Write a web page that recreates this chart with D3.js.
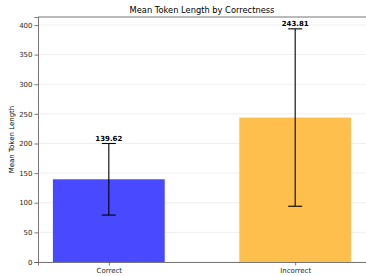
<!DOCTYPE html>
<html>
<head>
<meta charset="utf-8">
<script src="https://d3js.org/d3.v7.min.js"></script>
<style>
  body { margin: 0; background: #fff; }
  text { font-family: "DejaVu Sans", sans-serif; }
</style>
</head>
<body>
<div id="chart-area"></div>
<script>
  // Data
  var categories = ['Correct', 'Incorrect'];
  var means = [139.62, 243.81];
  var stds = [60.4, 149.7];
  var barColors = ['#4949ff', '#ffbf4d'];
  var yTicks = [0, 50, 100, 150, 200, 250, 300, 350, 400];

  var W = 366, H = 276;
  var margin = {left: 38, right: 0, top: 17, bottom: 14};
  var width = W - margin.left - margin.right,
      height = H - margin.top - margin.bottom;

  var svg = d3.select('#chart-area').append('svg')
      .attr('width', W).attr('height', H);
  var g = svg.append('g')
      .attr('transform', 'translate(' + margin.left + ',' + margin.top + ')');

  // Scales: index positions like matplotlib bar chart
  var x = d3.scaleLinear().domain([-0.38, 1.38]).range([0, width]);
  var y = d3.scaleLinear().domain([0, 413.5]).range([height, 0]);
  var barW = 0.6;

  // Grid
  g.selectAll('.grid').data(yTicks).enter().append('line')
      .attr('x1', 0).attr('x2', width)
      .attr('y1', function(d) { return y(d); })
      .attr('y2', function(d) { return y(d); })
      .attr('stroke', '#ebebeb').attr('stroke-width', 0.8);

  // Bars
  g.selectAll('.bar').data(means).enter().append('rect')
      .attr('x', function(d, i) { return x(i - barW / 2); })
      .attr('width', x(barW) - x(0))
      .attr('y', function(d) { return y(d); })
      .attr('height', function(d) { return y(0) - y(d); })
      .attr('fill', function(d, i) { return barColors[i]; });

  // Error bars
  var cap = 7;
  means.forEach(function(m, i) {
    var cx = x(i), top = y(m + stds[i]), bot = y(m - stds[i]);
    g.append('line').attr('x1', cx).attr('x2', cx).attr('y1', top).attr('y2', bot)
        .attr('stroke', '#000').attr('stroke-width', 1.1);
    [top, bot].forEach(function(yy) {
      g.append('line').attr('x1', cx - cap).attr('x2', cx + cap).attr('y1', yy).attr('y2', yy)
          .attr('stroke', '#000').attr('stroke-width', 1.1);
    });
    g.append('text')
        .attr('x', cx).attr('y', top - 2.5)
        .attr('text-anchor', 'middle')
        .attr('font-size', '7px').attr('font-weight', 'bold')
        .text(m.toFixed(2));
  });

  // Axes
  var yAxis = g.append('g')
      .call(d3.axisLeft(y).tickValues(yTicks).tickSize(3.5).tickPadding(2));
  var xAxis = g.append('g')
      .attr('transform', 'translate(0,' + height + ')')
      .call(d3.axisBottom(x).tickValues([0, 1]).tickFormat(function(d) { return categories[d]; })
            .tickSize(3.5).tickPadding(2.5));
  [xAxis, yAxis].forEach(function(a) {
    a.selectAll('text').attr('font-size', '7px').attr('fill', '#262626')
        .attr('font-family', '"DejaVu Sans", sans-serif');
    a.selectAll('line').attr('stroke', '#555').attr('stroke-width', 0.8);
    a.select('.domain').attr('stroke', '#777').attr('stroke-width', 1);
  });
  // top spine
  g.append('line').attr('x1', 0).attr('x2', width).attr('y1', 0).attr('y2', 0)
      .attr('stroke', '#777').attr('stroke-width', 1);

  // Title and labels
  svg.append('text')
      .attr('x', margin.left + width / 2).attr('y', 12.5)
      .attr('text-anchor', 'middle').attr('font-size', '8.3px')
      .text('Mean Token Length by Correctness');
  svg.append('text')
      .attr('transform', 'rotate(-90)')
      .attr('x', -(margin.top + height / 2)).attr('y', 14)
      .attr('text-anchor', 'middle').attr('font-size', '7px')
      .text('Mean Token Length');
</script>
</body>
</html>
